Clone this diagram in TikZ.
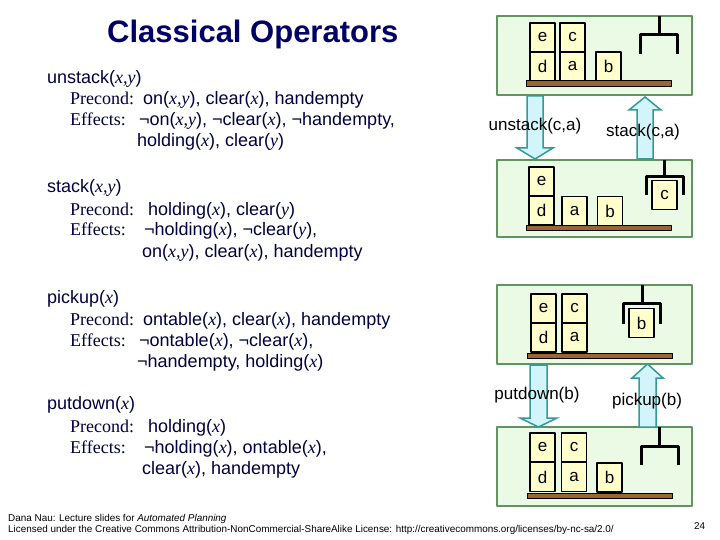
\documentclass[tikz,border=0pt]{standalone}
\usepackage{fontspec}
\setmainfont{Liberation Sans}
\newfontfamily\timesfont{Liberation Serif}
\usepackage{xcolor}
\definecolor{navy}{rgb}{0,0,0.25}
\definecolor{titleblue}{rgb}{0,0,0.4}
\definecolor{panelgreen}{rgb}{0.92,0.98,0.9}
\definecolor{panelline}{rgb}{0.38,0.58,0.38}
\definecolor{blockyellow}{rgb}{1,1,0.8}
\definecolor{tablebrown}{rgb}{0.6,0.4,0.2}
\definecolor{arrowfill}{rgb}{0.82,0.96,0.98}
\definecolor{arrowline}{rgb}{0.2,0.6,0.6}
\newcommand{\opvar}[1]{{\timesfont\itshape #1}}
\newcommand{\oplabel}[1]{{\timesfont #1}}

\tikzset{
  panel/.style={draw=panelline, line width=1.5pt, fill=panelgreen},
  block/.style={draw=black, line width=1.2pt, fill=blockyellow, minimum width=25pt,
    minimum height=29pt, inner sep=0pt, font=\fontsize{17}{17}\selectfont},
  tabletop/.style={draw=black, line width=1pt, fill=tablebrown},
  hand/.style={line width=3pt, line cap=butt},
  bigarrow/.style={draw=arrowline, line width=1.5pt, fill=arrowfill, line join=miter},
  optext/.style={anchor=base west, inner sep=0pt, text=navy, font=\fontsize{18}{22}\selectfont},
  movelabel/.style={anchor=base, inner sep=0pt, font=\fontsize{17}{17}\selectfont},
  footer/.style={anchor=base west, inner sep=0pt, font=\fontsize{9.9}{10}\selectfont}
}

\begin{document}
\begin{tikzpicture}[line cap=round,line join=round,x=1pt,y=-1pt]
	\useasboundingbox (0,0) rectangle (720,540);

	\node[anchor=base west, inner sep=0pt, text=titleblue, font=\fontsize{31}{31}\selectfont\bfseries] (title) at (107,43) {Classical Operators};

	% operators
	\node[optext] (unstack) at (47,84) {unstack(\opvar{x,y})};
	\node[optext] (unstackpre) at (70,105) {\oplabel{Precond:}};
	\node[optext] (unstackprecond) at (143,105) {on(\opvar{x,y}), clear(\opvar{x}), handempty};
	\node[optext] (unstackeff) at (70,126) {\oplabel{Effects:}};
	\node[optext] (unstackeffects) at (139,126) {¬on(\opvar{x,y}), ¬clear(\opvar{x}), ¬handempty,};
	\node[optext] (unstackeffects2) at (137,147) {holding(\opvar{x}), clear(\opvar{y})};

	\node[optext] (stack) at (47,193) {stack(\opvar{x,y})};
	\node[optext] (stackpre) at (70,215) {\oplabel{Precond:}};
	\node[optext] (stackprecond) at (148,215) {holding(\opvar{x}), clear(\opvar{y})};
	\node[optext] (stackeff) at (70,236) {\oplabel{Effects:}};
	\node[optext] (stackeffects) at (144,236) {¬holding(\opvar{x}), ¬clear(\opvar{y}),};
	\node[optext] (stackeffects2) at (142,257) {on(\opvar{x,y}), clear(\opvar{x}), handempty};

	\node[optext] (pickup) at (47,303) {pickup(\opvar{x})};
	\node[optext] (pickuppre) at (70,325) {\oplabel{Precond:}};
	\node[optext] (pickupprecond) at (143,325) {ontable(\opvar{x}), clear(\opvar{x}), handempty};
	\node[optext] (pickupeff) at (70,346) {\oplabel{Effects:}};
	\node[optext] (pickupeffects) at (139,346) {¬ontable(\opvar{x}), ¬clear(\opvar{x}),};
	\node[optext] (pickupeffects2) at (137,367) {¬handempty, holding(\opvar{x})};

	\node[optext] (putdown) at (47,409) {putdown(\opvar{x})};
	\node[optext] (putdownpre) at (70,432) {\oplabel{Precond:}};
	\node[optext] (putdownprecond) at (148,432) {holding(\opvar{x})};
	\node[optext] (putdowneff) at (70,453) {\oplabel{Effects:}};
	\node[optext] (putdowneffects) at (144,453) {¬holding(\opvar{x}), ontable(\opvar{x}),};
	\node[optext] (putdowneffects2) at (142,474) {clear(\opvar{x}), handempty};

	% state 1
	\draw[panel] (497,16) rectangle (692,95);
	\node[block] (ea) at (542.5,37.5) {e};
	\node[block] (da) at (542.5,66.5) {d};
	\node[block] (ca) at (572.5,37.5) {c};
	\node[block] (aa) at (572.5,66.5) {a};
	\node[block] (ba) at (608.5,66.5) {b};
	\draw[tabletop] (526,81) rectangle (671,87);
	\draw[hand] (659,16) -- (659,35) (640,54) -- (640,35) -- (677,35) -- (677,54);

	% state 2
	\draw[panel] (497,160) rectangle (692,237);
	\node[block] (eb) at (541.5,181.5) {e};
	\node[block] (db) at (541.5,210.5) {d};
	\node[block] (ab) at (574.5,211) {a};
	\node[block] (bb) at (610,211) {b};
	\draw[tabletop] (526,226) rectangle (671,231);
	\node[block] (cb) at (664.5,195) {c};
	\draw[hand] (664,160) -- (664,177) (646,195) -- (646,177) -- (683,177) -- (683,195);

	% state 3
	\draw[panel] (497,285) rectangle (692,364);
	\node[block] (ec) at (543.5,308.5) {e};
	\node[block] (dc) at (543.5,337.5) {d};
	\node[block] (cc) at (574.5,308.5) {c};
	\node[block] (ac) at (574.5,337.5) {a};
	\draw[tabletop] (527,353) rectangle (672,358);
	\node[block] (bc) at (641.5,323) {b};
	\draw[hand] (642,285) -- (642,303) (623,324) -- (623,303) -- (660,303) -- (660,324);

	% state 4
	\draw[panel] (497,427) rectangle (692,506);
	\node[block] (ed) at (542.5,447.5) {e};
	\node[block] (dd) at (542.5,477) {d};
	\node[block] (cd) at (574,447.5) {c};
	\node[block] (ad) at (574,477) {a};
	\node[block] (bd) at (609.5,477.5) {b};
	\draw[tabletop] (527,493) rectangle (672,498);
	\draw[hand] (659,427) -- (659,446) (641,465) -- (641,446) -- (678,446) -- (678,465);

	% moves
	\draw[bigarrow] (527,96) -- (543,96) -- (543,148) -- (553,148) -- (535,159) -- (517,148) -- (527,148) -- cycle;
	\draw[bigarrow] (637,159) -- (637,110) -- (629,110) -- (645,97) -- (661,110) -- (653,110) -- (653,159) -- cycle;
	\draw[bigarrow] (530,365) -- (547,365) -- (547,418) -- (557,418) -- (538.5,427) -- (520,418) -- (530,418) -- cycle;
	\draw[bigarrow] (639,427) -- (639,378) -- (632,378) -- (647.5,364) -- (663,378) -- (656,378) -- (656,427) -- cycle;

	\node[movelabel] (unstackca) at (535,131) {unstack(c,a)};
	\node[movelabel] (stackca) at (643,137) {stack(c,a)};
	\node[movelabel] (putdownb) at (537,399) {putdown(b)};
	\node[movelabel] (pickupb) at (647,405) {pickup(b)};

	% footer
	\node[footer] (credit) at (8,521) {Dana Nau: Lecture slides for \textit{Automated Planning}};
	\node[footer] (licence) at (8,532) {Licensed under the Creative Commons Attribution-NonCommercial-ShareAlike License: http://creativecommons.org/licenses/by-nc-sa/2.0/};
	\node[footer] (pagenum) at (694,529) {24};
\end{tikzpicture}
\end{document}
